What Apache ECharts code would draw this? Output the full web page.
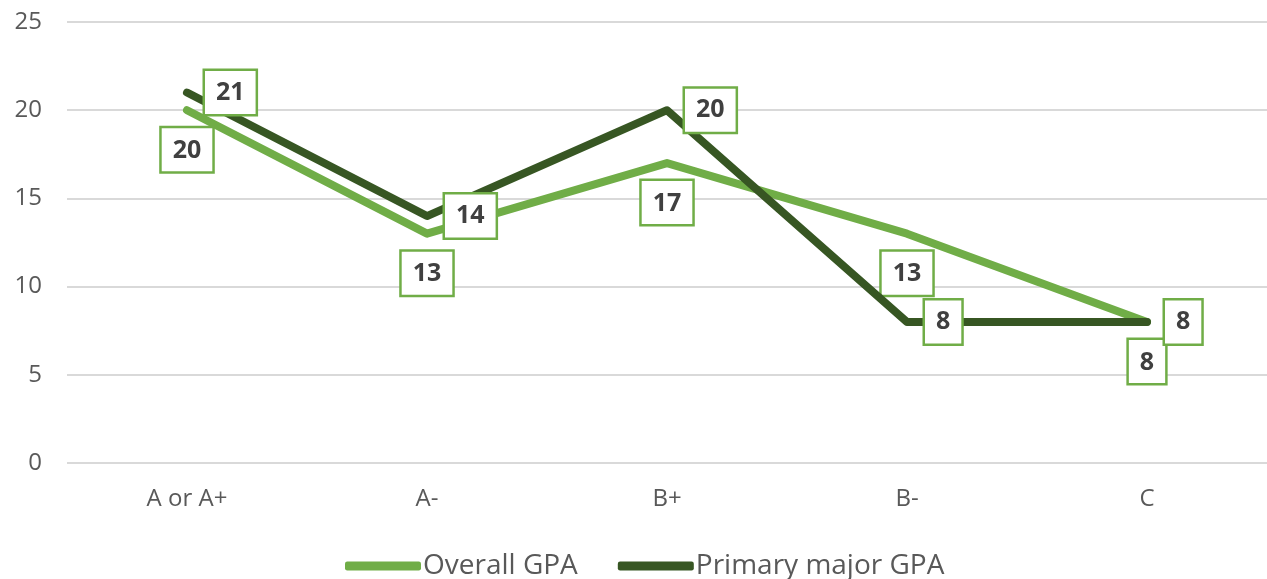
<!DOCTYPE html>
<html>
<head>
<meta charset="utf-8">
<script src="https://cdn.jsdelivr.net/npm/echarts@6/dist/echarts.min.js"></script>
<style>
  html, body { margin: 0; padding: 0; background: #fff; }
  #chart { width: 1267px; height: 579px; }
</style>
</head>
<body>
<div id="chart"></div>
<script>
// categories + values
let categories = ['A or A+', 'A-', 'B+', 'B-', 'C'];
let overallGpa = [20, 13, 17, 13, 8];
let primaryMajorGpa = [21, 14, 20, 8, 8];
let yTicks = [0, 5, 10, 15, 20, 25];

let fontFam = '"Open Sans", "Noto Sans", sans-serif';

let labelBox = {
  show: true,
  fontFamily: fontFam,
  fontSize: 25,
  fontWeight: 'bold',
  color: '#404040',
  backgroundColor: '#fff',
  borderColor: '#70ad47',
  borderWidth: 2.5,
  padding: [10, 11, 8, 11]
};

let chart = echarts.init(document.getElementById('chart'));
let option = {
  animation: false,
  grid: { left: 67, right: 0, top: 22, bottom: 116 },
  legend: {
    top: 547,
    left: 340,
    itemWidth: 76,
    itemHeight: 9,
    itemGap: 40,
    icon: 'roundRect',
    textStyle: { fontFamily: fontFam, fontSize: 28, color: '#595959', padding: [0, 0, 0, -3] },
    data: ['Overall GPA', 'Primary major GPA']
  },
  xAxis: {
    type: 'category',
    data: categories,
    axisLine: { show: false },
    axisTick: { show: false },
    axisLabel: { fontFamily: fontFam, fontSize: 24, color: '#595959', margin: 24 }
  },
  yAxis: {
    type: 'value',
    min: yTicks[0],
    max: yTicks[yTicks.length - 1],
    interval: 5,
    axisLabel: { fontFamily: fontFam, fontSize: 24, color: '#595959', margin: 25 },
    splitLine: { lineStyle: { color: '#d9d9d9', width: 2 } }
  },
  series: [
    {
      name: 'Overall GPA',
      type: 'line',
      data: overallGpa,
      symbol: 'circle',
      symbolSize: 0,
      showSymbol: true,
      color: '#70ad47',
      lineStyle: { width: 8, join: 'round', cap: 'round' },
      label: Object.assign({}, labelBox, { position: 'bottom', distance: 18 }),
      z: 2
    },
    {
      name: 'Primary major GPA',
      type: 'line',
      data: primaryMajorGpa,
      symbol: 'circle',
      symbolSize: 0,
      showSymbol: true,
      color: '#375623',
      lineStyle: { width: 8, join: 'round', cap: 'round' },
      label: Object.assign({}, labelBox, { position: 'right', distance: 18 }),
      z: 3
    }
  ]
};
chart.setOption(option);
</script>
</body>
</html>
